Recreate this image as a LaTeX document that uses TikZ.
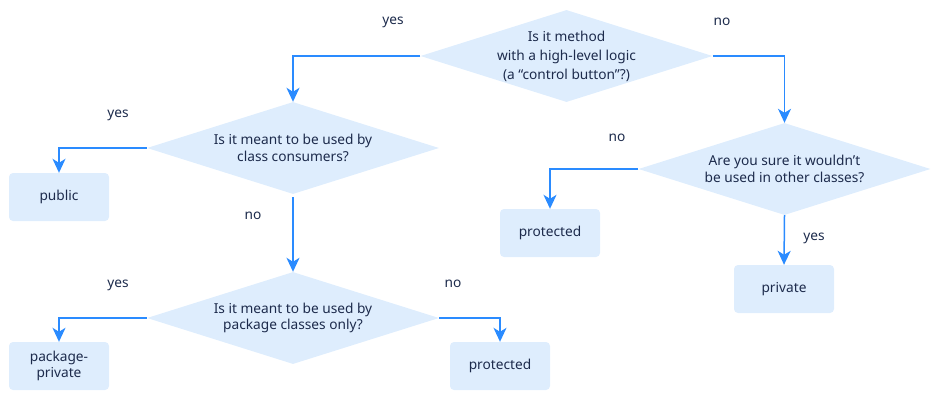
\documentclass[tikz,border=0pt]{standalone}
\usepackage{fontspec}
\setmainfont{Noto Sans}
\usetikzlibrary{shapes.geometric,arrows.meta}
\definecolor{fillblue}{HTML}{DEEDFD}
\definecolor{lineblue}{HTML}{2A8BFF}
\definecolor{txtnavy}{HTML}{1D2B4C}
\tikzset{
  dia/.style={shape=diamond, fill=fillblue, inner sep=0pt, minimum width=292pt, minimum height=92pt},
  dtxt/.style={align=center, font=\fontsize{13.7pt}{16.5pt}\selectfont, text=txtnavy},
  box/.style={rectangle, rounded corners=4pt, fill=fillblue, minimum width=100pt, minimum height=48pt, inner sep=0pt, align=center, font=\fontsize{13.7pt}{16.5pt}\selectfont, text=txtnavy},
  lbl/.style={font=\fontsize{13.7pt}{16pt}\selectfont, text=txtnavy},
  arr/.style={draw=lineblue, line width=1.5pt, -{Stealth[length=14pt,width=13pt,inset=4pt]}}
}
\begin{document}
\begin{tikzpicture}[x=1pt,y=-1pt]
\useasboundingbox (0,0) rectangle (941,401);
% diamonds
\node[dia, label={[dtxt, font=\fontsize{13.7pt}{19pt}\selectfont]center:{Is it method\\with a high-level logic\\(a “control button”?)}}] (d1) at (566.5,56) {};
\node[dia, label={[dtxt]center:{Is it meant to be used by\\class consumers?}}] (d2) at (293,148) {};
\node[dia, label={[dtxt]center:{Is it meant to be used by\\package classes only?}}] (d3) at (293,318) {};
\node[dia, label={[dtxt]center:{Are you sure it wouldn’t\\be used in other classes?}}] (d4) at (784.5,169) {};
% boxes
\node[box] (pub) at (59,197) {public};
\node[box] (pp) at (59,366) {package-\\private};
\node[box] (prot2) at (500,366) {protected};
\node[box] (prot1) at (550,233) {protected};
\node[box] (priv) at (784,289) {private};
% connectors
\draw[arr] (d1.west) -| (d2.north);
\draw[arr] (d1.east) -| (d4.north);
\draw[arr] (d2.west) -| (pub.north);
\draw[arr, shorten <=3pt] (d2.south) -- (d3.north);
\draw[arr] (d3.west) -| (pp.north);
\draw[arr] (d3.east) -| (prot2.north);
\draw[arr] (d4.west) -| (prot1.north);
\draw[arr] (d4.south) -- (priv.north);
% labels
\node[lbl] (l1) at (393,22) {yes};
\node[lbl] (l2) at (722,22) {no};
\node[lbl] (l3) at (118,115) {yes};
\node[lbl] (l4) at (253,216) {no};
\node[lbl] (l5) at (118,285) {yes};
\node[lbl] (l6) at (453,284) {no};
\node[lbl] (l7) at (617,138) {no};
\node[lbl] (l8) at (814,238) {yes};
\end{tikzpicture}
\end{document}
